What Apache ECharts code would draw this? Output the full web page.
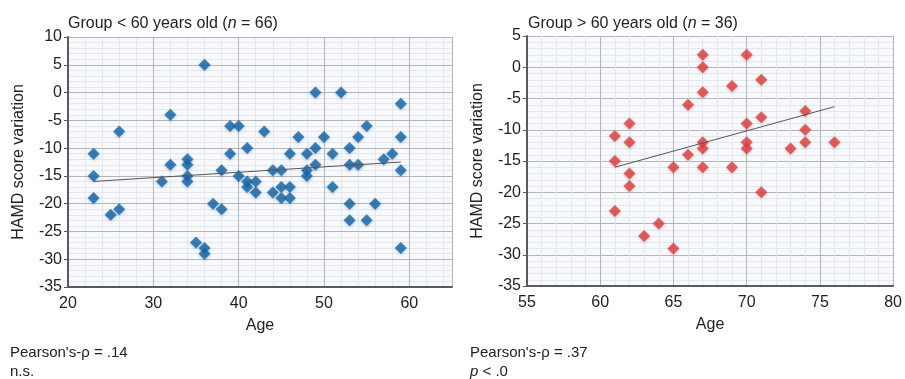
<!DOCTYPE html>
<html><head><meta charset="utf-8">
<script src="https://cdn.jsdelivr.net/npm/echarts@6/dist/echarts.min.js"></script>
<style>html,body{margin:0;padding:0;background:#fff}#c{width:905px;height:379px}</style>
</head><body><div id="c"></div>
<script>
// Group < 60 years old
const youngAge = [23,23,23,25,26,26,31,32,32,34,34,34,34,35,36,36,36,37,38,38,39,39,40,40,41,41,41,42,42,43,44,44,45,45,45,46,46,46,47,48,48,48,49,49,49,50,51,51,52,53,53,53,53,54,54,55,55,56,57,58,59,59,59,59];
const youngHamd = [-11,-15,-19,-22,-7,-21,-16,-4,-13,-12,-13,-15,-16,-27,5,-28,-29,-20,-14,-21,-6,-11,-6,-15,-10,-16,-17,-16,-18,-7,-14,-18,-14,-17,-19,-11,-17,-19,-8,-11,-14,-15,0,-10,-13,-8,-11,-17,0,-10,-13,-20,-23,-8,-13,-6,-23,-20,-12,-11,-2,-8,-14,-28];
const youngTrendAge = [23, 59];
const youngTrendHamd = [-16, -12.5];
// Group > 60 years old
const oldAge = [61,61,61,62,62,62,62,63,64,65,65,66,66,67,67,67,67,67,67,69,69,70,70,70,70,71,71,71,73,74,74,74,76];
const oldHamd = [-11,-15,-23,-9,-12,-17,-19,-27,-25,-16,-29,-6,-14,2,0,-4,-12,-13,-16,-3,-16,2,-9,-12,-13,-2,-8,-20,-13,-7,-10,-12,-12];
const oldTrendAge = [61, 76];
const oldTrendHamd = [-16, -6.3];
const leftXTicks = [20,30,40,50,60];
const rightXTicks = [55,60,65,70,75,80];
const yTicksLeft = [10,5,0,-5,-10,-15,-20,-25,-30,-35];
const yTicksRight = [5,0,-5,-10,-15,-20,-25,-30,-35];

const zip = (a,b) => a.map((v,i)=>[v,b[i]]);
const FONT = 'Liberation Sans, Arial, sans-serif';
const TXT = '#222';
const FS = 16;
const FSB = 15;
const majorLine = {show:true, lineStyle:{color:'#b5b5b5', width:1}};
const minorLine = {show:true, lineStyle:{color:'#e3e8ef', width:1}};
const axisLine = {show:true, onZero:false, lineStyle:{color:'#5a5a5a', width:2}};

function mainX(grid, min, max, interval, ticks){
  return {gridIndex:grid, type:'value', min, max, interval, position:'bottom',
    name:'Age', nameLocation:'middle', nameGap:31,
    nameTextStyle:{color:TXT, fontSize:FS, fontFamily:FONT},
    axisLine, axisTick:{show:false},
    axisLabel:{color:TXT, fontSize:FS, fontFamily:FONT, margin:9,
      formatter: v => ticks.includes(v) ? String(v) : ''},
    splitLine: majorLine, z:3};
}
function minorX(grid, min, max, interval){
  return {gridIndex:grid, type:'value', min, max, interval, position:'bottom',
    axisLine:{show:false, onZero:false}, axisTick:{show:false}, axisLabel:{show:false},
    splitLine: minorLine, z:1};
}
function mainY(grid, min, max, ticks){
  return {gridIndex:grid, type:'value', min, max, interval:5, position:'left',
    name:'HAMD score variation', nameLocation:'middle', nameGap:41, nameRotate:90,
    nameTextStyle:{color:TXT, fontSize:FS, fontFamily:FONT},
    axisLine, axisTick:{show:true, length:4, lineStyle:{color:'#5a5a5a'}},
    axisLabel:{color:TXT, fontSize:FS, fontFamily:FONT, margin:6,
      formatter: v => ticks.includes(v) ? String(v) : ''},
    splitLine: majorLine,
    minorTick:{show:false, splitNumber:5},
    minorSplitLine: minorLine, z:3};
}

const chart = echarts.init(document.getElementById('c'), null, {renderer:'canvas'});
chart.setOption({
  animation:false,
  backgroundColor:'#ffffff',
  textStyle:{fontFamily:FONT},
  title:[
    {text:'Group < 60 years old ({i|n} = 66)', left:63, top:11,
      textStyle:{fontSize:FS, fontWeight:'normal', color:TXT, fontFamily:FONT,
        rich:{i:{fontStyle:'italic', fontSize:FS, color:TXT, fontFamily:FONT}}}},
    {text:'Group > 60 years old ({i|n} = 36)', left:523, top:11,
      textStyle:{fontSize:FS, fontWeight:'normal', color:TXT, fontFamily:FONT,
        rich:{i:{fontStyle:'italic', fontSize:FS, color:TXT, fontFamily:FONT}}}}
  ],
  grid:[
    {left:68, top:37, width:384, height:250, backgroundColor:'#f7f9fc', show:true, borderWidth:0},
    {left:527, top:36, width:375, height:250, backgroundColor:'#f7f9fc', show:true, borderWidth:0}
  ],
  xAxis:[
    mainX(0, 20, 65, 10, leftXTicks),
    minorX(0, 20, 65, 2),
    Object.assign(mainX(1, 55, 80, 5, rightXTicks), {minorTick:{show:false, splitNumber:5}, minorSplitLine:minorLine})
  ],
  yAxis:[
    mainY(0, -35, 10, yTicksLeft),
    mainY(1, -35, 5, yTicksRight)
  ],
  series:[
    {type:'scatter', xAxisIndex:0, yAxisIndex:0, data:zip(youngAge, youngHamd),
      symbol:'diamond', symbolSize:[12,12],
      itemStyle:{color:'#1565a8', shadowColor:'rgba(0,60,120,0.35)', shadowBlur:3, shadowOffsetY:1}, z:5},
    {type:'line', xAxisIndex:0, yAxisIndex:0, data:zip(youngTrendAge, youngTrendHamd),
      symbol:'none', lineStyle:{color:'#555', width:1}, z:6},
    {type:'scatter', xAxisIndex:2, yAxisIndex:1, data:zip(oldAge, oldHamd),
      symbol:'diamond', symbolSize:[12,12],
      itemStyle:{color:'#dd3f3f', shadowColor:'rgba(140,20,20,0.3)', shadowBlur:3, shadowOffsetY:1}, z:5},
    {type:'line', xAxisIndex:2, yAxisIndex:1, data:zip(oldTrendAge, oldTrendHamd),
      symbol:'none', lineStyle:{color:'#555', width:1}, z:6}
  ],
  graphic:[
    {type:'text', left:10, top:345, style:{text:"Pearson's-ρ = .14", fontSize:FSB, fill:TXT, fontFamily:FONT}},
    {type:'text', left:10, top:364, style:{text:'n.s.', fontSize:FSB, fill:TXT, fontFamily:FONT}},
    {type:'text', left:470, top:345, style:{text:"Pearson's-ρ = .37", fontSize:FSB, fill:TXT, fontFamily:FONT}},
    {type:'text', left:470, top:364, style:{text:'{i|p} < .0', fontSize:FSB, fill:TXT, fontFamily:FONT,
      rich:{i:{fontStyle:'italic', fontSize:FSB, fill:TXT, fontFamily:FONT}}}}
  ]
});
</script>
</body></html>
